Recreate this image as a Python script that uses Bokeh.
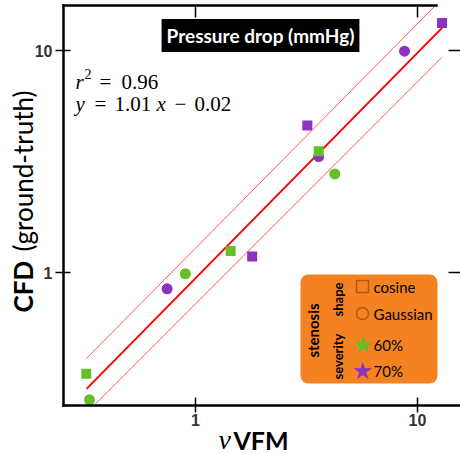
import math
from bokeh.plotting import figure
from bokeh.models import Range1d, Label, BoxAnnotation
from bokeh.core.properties import value
from bokeh.embed import file_html
from bokeh.resources import INLINE

# ---------------- data ----------------
# cosine shape (squares)
vfm_cos_60 = [0.322, 1.44, 3.59]
cfd_cos_60 = [0.350, 1.25, 3.52]
vfm_cos_70 = [1.80, 3.19, 12.9]
cfd_cos_70 = [1.18, 4.59, 13.3]
# Gaussian shape (circles)
vfm_gau_60 = [0.333, 0.90, 4.24]
cfd_gau_60 = [0.267, 0.987, 2.78]
vfm_gau_70 = [0.745, 3.59, 8.74]
cfd_gau_70 = [0.844, 3.33, 9.93]
# regression line and band
fit_x = [0.323, 12.9]
fit_y = [0.299, 12.65]
upper_x = [0.322, 12.05]
upper_y = [0.409, 15.95]
lower_x = [0.352, 12.9]
lower_y = [0.254, 9.33]
tick_values = [1, 10]
tick_labels = ["1", "10"]

GREEN = "#66BE28"
PURPLE = "#8C32BE"
ORANGE = "#F58220"

W, H = 460, 454
# layout: value 1 at x=195 px / y=272 px, 222 px per decade
X0, Y0, DEC = 195.0, 272.0, 222.0


def X(px):
    return 10 ** ((px - X0) / DEC)


def Y(py):
    return 10 ** ((Y0 - py) / DEC)


p = figure(width=W, height=H, x_axis_type="log", y_axis_type="log",
           x_range=Range1d(X(0), X(W)), y_range=Range1d(Y(H), Y(0)),
           x_axis_location=None, y_axis_location=None,
           output_backend="svg", toolbar_location=None,
           min_border_left=0, min_border_right=0, min_border_top=0, min_border_bottom=0)
p.outline_line_color = None
p.xgrid.visible = False
p.ygrid.visible = False
p.background_fill_color = "white"
p.border_fill_color = "white"

# plot box edges (page px): left 63, bottom 405, top 5
x_lo, y_lo, y_hi, x_hi = X(63), Y(405), Y(5), X(W)

# regression line and its band
p.segment(x0=[upper_x[0], lower_x[0], fit_x[0]], y0=[upper_y[0], lower_y[0], fit_y[0]],
          x1=[upper_x[1], lower_x[1], fit_x[1]], y1=[upper_y[1], lower_y[1], fit_y[1]],
          line_color=["#FF5A5A", "#FF5A5A", "#FF0000"], line_width=[1, 1, 2])

# points
p.scatter(vfm_gau_60, cfd_gau_60, marker="circle", size=11, fill_color=GREEN, line_color=None)
p.scatter(vfm_gau_70, cfd_gau_70, marker="circle", size=11, fill_color=PURPLE, line_color=None)
p.scatter(vfm_cos_60, cfd_cos_60, marker="square", size=10, fill_color=GREEN, line_color=None)
p.scatter(vfm_cos_70, cfd_cos_70, marker="square", size=10, fill_color=PURPLE, line_color=None)

# axes box lines
p.segment(x0=[x_lo, x_lo, x_lo], y0=[y_lo, y_lo, y_hi],
          x1=[x_lo, x_hi, X(436)], y1=[y_hi, y_lo, y_hi],
          line_color="black", line_width=2.5, line_cap="square")
# ticks
tx0, ty0, tx1, ty1 = [], [], [], []
for t in tick_values:
    # bottom (crossing) and top (inward)
    tx0 += [t, t]; ty0 += [Y(397), y_hi]; tx1 += [t, t]; ty1 += [Y(412), Y(17)]
    # left (crossing) and right (inward)
    tx0 += [X(55), X(448)]; ty0 += [t, t]; tx1 += [X(70), X(W)]; ty1 += [t, t]
p.segment(x0=tx0, y0=ty0, x1=tx1, y1=ty1, line_color="black", line_width=1.5)

# tick labels
tick_font = dict(text_font=value("Liberation Sans"), text_font_style="bold",
                 text_font_size="16px", text_color="#333333")
p.text(x=tick_values, y=[Y(413)] * len(tick_values), text=tick_labels,
       text_align="center", text_baseline="top", **tick_font)
p.text(x=[X(52)] * len(tick_values), y=tick_values, text=tick_labels,
       text_align="right", text_baseline="middle", **tick_font)


# ---------------- annotations (page px -> screen units) ----------------
def lab(px, py, text, **kw):
    kw.setdefault("text_color", "black")
    p.add_layout(Label(x=px, y=H - py, x_units="screen", y_units="screen",
                       text=text, **kw))


def box(l, r, t, b, **kw):
    p.add_layout(BoxAnnotation(left=l, right=r, top=H - t, bottom=H - b,
                               left_units="screen", right_units="screen",
                               top_units="screen", bottom_units="screen", **kw))


# title box
lab(260, 35, "Pressure drop (mmHg)", text_align="center", text_baseline="middle",
    text_color="white", text_font="Lato", text_font_style="bold", text_font_size="19px",
    background_fill_color="black", padding=5)

# equation
SERIF = "Liberation Serif"
eq = dict(text_font=SERIF, text_font_size="21px", text_baseline="alphabetic",
          text_align="left")
lab(75, 81, "r", text_font_style="italic", **eq)
lab(84, 73, "2", text_font=SERIF, text_font_size="14px", text_baseline="alphabetic")
lab(99, 81, "=", **eq)
lab(121, 81, "0.96", **eq)
lab(75, 103, "y", text_font_style="italic", **eq)
lab(94, 103, "=", **eq)
lab(114, 103, "1.01", **eq)
lab(156, 103, "x", text_font_style="italic", **eq)
lab(174, 103, "\u2212", **eq)
lab(194, 103, "0.02", **eq)

# axis titles
lab(218, 439, "\u03bd", text_font=SERIF, text_font_style="italic", text_font_size="28px",
    text_baseline="alphabetic")
lab(233, 439, "VFM", text_font="Lato", text_font_style="bold", text_font_size="25px",
    text_baseline="alphabetic")
lab(22, 312, "CFD", text_font="Lato", text_font_style="bold", text_font_size="26px",
    text_baseline="middle", text_align="left", angle=math.pi / 2)
lab(22, 251, "(ground-truth)", text_font="Lato", text_font_size="26px",
    text_baseline="middle", text_align="left", angle=math.pi / 2)

# legend
box(300, 437, 274, 383, fill_color=ORANGE, fill_alpha=1, line_color=None, border_radius=8)
lab(312, 330, "stenosis", text_font="Lato", text_font_style="bold", text_font_size="15px",
    text_align="center", text_baseline="middle", angle=math.pi / 2)
lab(337, 299, "shape", text_font="Lato", text_font_style="bold", text_font_size="13px",
    text_align="center", text_baseline="middle", angle=math.pi / 2)
lab(337, 356, "severity", text_font="Lato", text_font_style="bold", text_font_size="13px",
    text_align="center", text_baseline="middle", angle=math.pi / 2)
box(356, 368, 280, 292, fill_alpha=0, line_color="black", line_width=1.5)
box(356, 368, 307, 319, fill_alpha=0, line_color="black", line_width=1.5, border_radius=6)
lab(362, 344, "\u2605", text_font="DejaVu Sans", text_font_size="24px", text_color=GREEN,
    text_align="center", text_baseline="middle")
lab(362, 370, "\u2605", text_font="DejaVu Sans", text_font_size="24px", text_color=PURPLE,
    text_align="center", text_baseline="middle")
leg = dict(text_font="Lato", text_font_size="15px", text_baseline="middle", text_align="left")
lab(373, 286, "cosine", **leg)
lab(373, 313, "Gaussian", **leg)
lab(373, 344, "60%", **leg)
lab(373, 370, "70%", **leg)

open("out.html", "w").write(file_html(p, INLINE))
